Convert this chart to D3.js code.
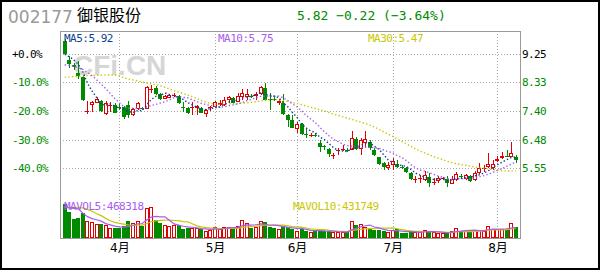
<!DOCTYPE html>
<html><head><meta charset="utf-8">
<script src="https://cdn.jsdelivr.net/npm/d3@7"></script>
<style>
html,body{margin:0;padding:0;background:#fff;}
svg{display:block;}
</style></head><body>
<svg id="chart" width="600" height="270"></svg>
<script>
// ---- data ----
const stockCode = "002177";
const stockName = "御银股份";

const opens = [9.66,9.06,8.88,8.64,8.51,7.40,7.59,7.68,7.73,7.32,
7.58,7.61,7.55,7.53,7.60,7.27,7.46,7.49,7.48,8.10,
8.15,7.97,7.80,7.83,7.90,7.89,7.55,7.49,7.52,7.49,
7.49,7.30,7.50,7.52,7.61,7.60,7.76,7.82,7.71,7.87,
7.87,7.90,7.89,7.96,8.14,7.78,7.80,7.66,7.66,7.28,
7.12,6.81,6.99,6.67,6.62,6.62,6.36,6.26,6.17,5.96,
6.11,6.16,6.15,6.15,6.49,6.18,6.38,6.41,6.14,5.91,
5.72,5.57,5.66,5.69,5.60,5.55,5.41,5.18,5.20,5.16,
5.26,5.10,5.13,5.22,5.19,5.05,5.18,5.30,5.19,5.30,
5.17,5.41,5.54,5.58,5.55,5.78,5.88,5.96,5.91,5.93];

const highs = [9.73,9.20,8.95,9.02,8.55,7.72,7.73,7.86,7.76,7.73,
7.70,7.66,7.62,7.57,7.72,7.50,7.70,7.52,8.22,8.25,
8.22,8.00,7.92,7.96,7.98,7.92,7.70,7.52,7.70,7.60,
7.52,7.47,7.57,7.72,7.76,7.86,7.90,7.86,7.99,8.11,
8.12,7.97,8.02,8.22,8.30,7.99,7.90,7.80,7.96,7.30,
7.28,7.06,7.02,6.81,6.68,6.70,6.47,6.30,6.20,6.04,
6.22,6.30,6.20,6.76,6.55,6.52,6.76,6.47,6.20,5.93,
5.77,5.74,5.87,5.82,5.65,5.59,5.44,5.30,5.34,5.45,
5.39,5.22,5.29,5.27,5.30,5.30,5.44,5.38,5.38,5.33,
5.45,5.72,5.66,6.04,5.82,5.94,6.08,6.14,6.40,5.97];

const lows = [9.25,8.80,8.72,8.45,7.74,7.30,7.37,7.66,7.37,7.28,
7.38,7.33,7.45,7.15,7.18,7.25,7.44,7.44,7.47,8.00,
7.92,7.77,7.78,7.81,7.87,7.64,7.37,7.31,7.28,7.28,
7.33,7.22,7.42,7.50,7.58,7.58,7.68,7.64,7.69,7.76,
7.77,7.82,7.77,7.92,7.74,7.44,7.72,7.60,7.27,6.89,
6.84,6.69,6.63,6.52,6.55,6.55,6.09,6.15,5.92,5.85,
5.97,6.10,6.08,6.13,6.15,5.98,6.25,6.15,5.95,5.67,
5.50,5.48,5.51,5.56,5.53,5.39,5.16,5.08,5.06,5.14,
4.96,5.00,5.07,5.17,4.94,5.03,5.15,5.20,5.16,5.11,
5.15,5.38,5.43,5.55,5.50,5.74,5.86,5.90,5.90,5.72];

const closes = [9.26,8.93,8.84,8.55,7.76,7.42,7.70,7.79,7.41,7.66,
7.60,7.35,7.50,7.21,7.27,7.46,7.66,7.47,8.18,8.12,
7.97,7.80,7.88,7.91,7.92,7.66,7.54,7.35,7.54,7.57,
7.35,7.44,7.52,7.69,7.65,7.76,7.85,7.66,7.89,7.98,
7.96,7.89,7.96,8.17,7.76,7.76,7.77,7.74,7.30,7.12,
6.85,6.99,6.66,6.66,6.63,6.60,6.25,6.25,6.02,5.97,
6.13,6.18,6.14,6.52,6.18,6.45,6.49,6.20,5.98,5.69,
5.59,5.66,5.79,5.58,5.59,5.42,5.20,5.20,5.22,5.32,
5.08,5.12,5.23,5.23,5.08,5.19,5.36,5.28,5.33,5.13,
5.41,5.55,5.56,5.70,5.68,5.85,5.95,5.94,6.04,5.82];

const volumes = [1526000,1146700,872000,915600,1120500,741200,710700,610400,608000,566800,
449100,436000,438000,536300,741200,654000,784800,536300,1338500,1382100,
828400,654000,566800,536300,566800,566800,392400,436000,449100,436000,
392400,318300,348800,510100,392400,510100,510100,392400,536300,828400,
684500,436000,492700,741200,697600,492700,449100,392400,536300,510100,
392400,318300,392400,318300,274700,348800,318300,318300,292100,248500,
248500,274700,274700,784800,566800,610400,510100,436000,348800,361900,
292100,274700,348800,392400,218000,218000,274700,274700,274700,348800,
274700,248500,218000,218000,218000,318300,466500,318300,318300,274700,
370600,370600,305200,536300,393200,392400,392400,361900,684500,510390];

// averages carried over from trading days before the first bar shown
const ma5Lead = [9.24,9.16,9.06,8.92];
const ma10Lead = [8.90,8.88,8.85,8.80,8.75,8.65,8.55,8.42,8.28];
const ma30Lead = [8.50,8.51,8.52,8.53,8.54,8.55,8.55,8.56,8.56,8.57,
8.57,8.57,8.55,8.48,8.44,8.41,8.38,8.34,8.31,8.28,
8.25,8.22,8.17,8.12,8.06,8.02,7.97,7.92,7.87];
const mavol5Lead = [1373400,1351600,1329800,1308000];
const mavol10Lead = [1382100,1382100,1373400,1364700,1351600,1286200,1199000,1090000,1002800];

const monthLabels = ["4月","5月","6月","7月","8月"];
const monthIndex = [12,33,51,72,95];
const priceTicks = [9.25,8.33,7.40,6.48,5.55];
const pctTicks = [0,-10,-20,-30,-40];

// ---- helpers ----
const N = closes.length;
function movingAvg(values, n, lead) {
  return values.map((v, i) => i < lead.length ? lead[i] : d3.mean(values.slice(i - n + 1, i + 1)));
}
const ma5 = movingAvg(closes, 5, ma5Lead);
const ma10 = movingAvg(closes, 10, ma10Lead);
const ma30 = movingAvg(closes, 30, ma30Lead);
const mavol5 = movingAvg(volumes, 5, mavol5Lead);
const mavol10 = movingAvg(volumes, 10, mavol10Lead);

const RED = "#e00000", GREEN = "#008a00", GRID = "#a8a8a8", FRAME = "#9a9a9a";
const C_MA5 = "#0d3f94", C_MA10 = "#a95cf0", C_MA30 = "#c8c800";
const MONO = "'DejaVu Sans Mono', monospace";

const svg = d3.select("#chart");
svg.append("rect").attr("width", 600).attr("height", 270).attr("fill", "#fff");

// ---- scales ----
const x = d3.scalePoint().domain(d3.range(N)).range([64.7, 515.7]);
const y = d3.scaleLinear().domain([5.55, 9.25]).range([168.3, 54]);
const yv = d3.scaleLinear().domain([0, d3.max(volumes)]).range([238, 204]);

const L = 60, R = 520, T = 31, B = 238;

// ---- grid ----
const grid = svg.append("g").attr("stroke", GRID).attr("stroke-dasharray", "1,2").attr("shape-rendering", "crispEdges");
priceTicks.forEach(p => {
  const yy = Math.round(y(p)) + 0.5;
  grid.append("line").attr("x1", L).attr("x2", R).attr("y1", yy).attr("y2", yy);
});
monthIndex.forEach(i => {
  const xx = Math.round(x(i)) + 0.5;
  grid.append("line").attr("x1", xx).attr("x2", xx).attr("y1", T).attr("y2", B);
});

// watermark
svg.append("text").attr("x", 73).attr("y", 75)
  .attr("font-family", "'Liberation Sans', Arial, sans-serif").attr("font-weight", "bold")
  .attr("font-size", 28).attr("fill", "#d6d6d6").text("CFi.CN");

// ---- candles ----
const candles = svg.append("g").attr("shape-rendering", "crispEdges");
d3.range(N).forEach(i => {
  const o = opens[i], c = closes[i];
  const up = c >= o;
  const col = up ? RED : GREEN;
  const cx = Math.round(x(i));
  const top = Math.round(y(Math.max(o, c)));
  const bot = Math.round(y(Math.min(o, c)));
  const h = Math.max(1, bot - top);
  const yH = Math.round(y(highs[i])), yL = Math.round(y(lows[i]));
  const wx = cx + 0.5;
  if (up && h > 2) {
    if (yH < top) candles.append("line").attr("x1", wx).attr("x2", wx).attr("y1", yH).attr("y2", top).attr("stroke", col);
    if (yL > bot) candles.append("line").attr("x1", wx).attr("x2", wx).attr("y1", bot).attr("y2", yL).attr("stroke", col);
    candles.append("rect").attr("x", cx - 1.5).attr("y", top + 0.5).attr("width", 3).attr("height", h - 1)
      .attr("fill", "#fff").attr("stroke", col);
  } else {
    candles.append("line").attr("x1", wx).attr("x2", wx).attr("y1", yH).attr("y2", Math.max(yL, yH + 1)).attr("stroke", col);
    candles.append("rect").attr("x", cx - 2).attr("y", top).attr("width", 4).attr("height", h).attr("fill", col);
  }
});

// ---- moving average lines (price) ----
const priceLine = d3.line().x((d, i) => x(i)).y(d => y(d));
[[ma30, C_MA30], [ma10, C_MA10], [ma5, C_MA5]].forEach(([s, col]) => {
  svg.append("path").attr("d", priceLine(s)).attr("fill", "none").attr("stroke", col)
    .attr("stroke-width", 1.4).attr("stroke-dasharray", "1.4,2.2");
});

// ---- volume bars ----
const vol = svg.append("g").attr("shape-rendering", "crispEdges");
d3.range(N).forEach(i => {
  const up = closes[i] >= opens[i];
  const cx = Math.round(x(i));
  const top = Math.round(yv(volumes[i]));
  const h = B - top;
  if (up) {
    vol.append("rect").attr("x", cx - 1.5).attr("y", top + 0.5).attr("width", 3).attr("height", Math.max(0, h - 1))
      .attr("fill", "#fff").attr("stroke", RED);
  } else {
    vol.append("rect").attr("x", cx - 2).attr("y", top).attr("width", 4).attr("height", h).attr("fill", GREEN);
  }
});
const volLine = d3.line().x((d, i) => x(i)).y(d => yv(d));
svg.append("path").attr("d", volLine(mavol10)).attr("fill", "none").attr("stroke", C_MA30).attr("stroke-width", 1.2);
svg.append("path").attr("d", volLine(mavol5)).attr("fill", "none").attr("stroke", C_MA10).attr("stroke-width", 1.2);

// ---- plot frame ----
const frame = svg.append("g").attr("stroke", FRAME).attr("shape-rendering", "crispEdges");
frame.append("line").attr("x1", L + 0.5).attr("x2", L + 0.5).attr("y1", T).attr("y2", B + 1);
frame.append("line").attr("x1", R + 0.5).attr("x2", R + 0.5).attr("y1", T).attr("y2", B + 1);
frame.append("line").attr("x1", L).attr("x2", R + 1).attr("y1", T + 0.5).attr("y2", T + 0.5);
frame.append("line").attr("x1", L).attr("x2", R + 1).attr("y1", B + 0.5).attr("y2", B + 0.5);

// ---- axes ----
const pctFmt = v => (v >= 0 ? "+" : "") + v.toFixed(1) + "%";
const leftAxis = d3.axisLeft(y).tickValues(priceTicks).tickSize(0)
  .tickFormat((d, i) => pctFmt(pctTicks[i]));
const gl = svg.append("g").attr("transform", `translate(${L},0)`).call(leftAxis);
gl.select(".domain").remove();
gl.selectAll("text").attr("x", 12 - L).attr("text-anchor", "start")
  .attr("font-family", MONO).attr("font-size", 11).attr("letter-spacing", "-0.6px")
  .attr("fill", (d, i) => pctTicks[i] === 0 ? "#000" : GREEN);

const rightAxis = d3.axisRight(y).tickValues(priceTicks).tickSize(0).tickPadding(2)
  .tickFormat(d3.format(".2f"));
const gr = svg.append("g").attr("transform", `translate(${R},0)`).call(rightAxis);
gr.select(".domain").remove();
gr.selectAll("text").attr("font-family", MONO).attr("font-size", 11).attr("letter-spacing", "-0.6px")
  .attr("fill", (d, i) => i === 0 ? "#000" : GREEN);

const bottomAxis = d3.axisBottom(x).tickValues(monthIndex).tickSize(0).tickPadding(5)
  .tickFormat((d, i) => monthLabels[i]);
const gb = svg.append("g").attr("transform", `translate(0,${B})`).call(bottomAxis);
gb.select(".domain").remove();
gb.selectAll("text").attr("font-family", "'DejaVu Sans', 'Noto Sans CJK SC', sans-serif")
  .attr("font-size", 12).attr("fill", "#000");

// ---- legends ----
const fmt2 = d3.format(".2f");
function label(tx, ty, str, col) {
  svg.append("text").attr("x", tx).attr("y", ty).attr("font-family", MONO).attr("font-size", 11)
    .attr("letter-spacing", "-0.5px").attr("fill", col).text(str);
}
label(64, 42, "MA5:" + fmt2(ma5[N - 1]), C_MA5);
label(218, 42, "MA10:" + fmt2(ma10[N - 1]), C_MA10);
label(368, 42, "MA30:" + fmt2(ma30[N - 1]), C_MA30);
label(64, 210, "MAVOL5:" + Math.round(mavol5[N - 1]), C_MA10);
label(293, 210, "MAVOL10:" + Math.round(mavol10[N - 1]), C_MA30);

// ---- header ----
svg.append("text").attr("x", 8).attr("y", 22.5).attr("font-family", "'DejaVu Sans', sans-serif")
  .attr("font-size", 17).attr("fill", "#999").text(stockCode);
svg.append("text").attr("x", 77).attr("y", 20.5).attr("font-family", "'Noto Sans CJK SC', sans-serif")
  .attr("font-size", 16).attr("fill", "#000").text(stockName);
const last = closes[N - 1], prev = closes[N - 2];
const chg = last - prev, chgPct = chg / prev * 100;
svg.append("text").attr("x", 297).attr("y", 19.5).attr("font-family", MONO).attr("font-size", 13)
  .attr("fill", chg < 0 ? GREEN : RED)
  .text(`${fmt2(last)} ${chg >= 0 ? "+" : ""}${fmt2(chg)} (${chg >= 0 ? "+" : ""}${fmt2(chgPct)}%)`);

// outer border
svg.append("rect").attr("x", 1).attr("y", 1).attr("width", 598).attr("height", 268)
  .attr("fill", "none").attr("stroke", "#000").attr("stroke-width", 2);
</script>
</body></html>
